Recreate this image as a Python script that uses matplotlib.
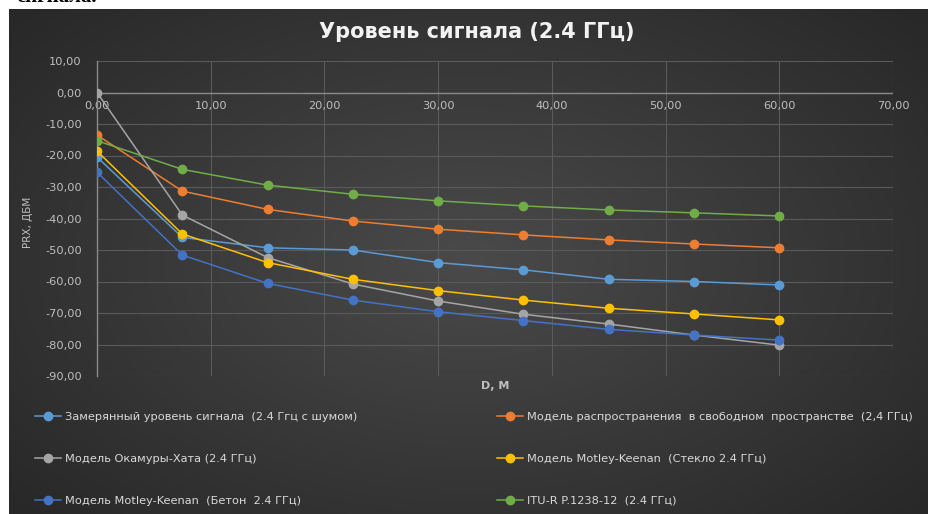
import matplotlib.pyplot as plt
import matplotlib.transforms as mtrans
import numpy as np

# distance, m
dist = [0.0, 7.5, 15.0, 22.5, 30.0, 37.5, 45.0, 52.5, 60.0]

measured   = [-20.5, -46.0, -49.3, -50.0, -54.0, -56.3, -59.3, -60.0, -61.1]
free_space = [-13.5, -31.3, -37.1, -40.8, -43.4, -45.2, -46.8, -48.1, -49.3]
okumura    = [0.0, -38.9, -52.4, -60.8, -66.2, -70.4, -73.5, -77.0, -80.2]
mk_glass   = [-18.6, -44.9, -54.0, -59.3, -62.9, -65.9, -68.5, -70.3, -72.2]
mk_concr   = [-25.3, -51.6, -60.6, -65.9, -69.6, -72.4, -75.2, -77.0, -78.6]
itu        = [-15.3, -24.4, -29.4, -32.3, -34.4, -36.0, -37.3, -38.2, -39.2]

labels = ['Замерянный уровень сигнала  (2.4 Ггц с шумом)',
          'Модель распространения  в свободном  пространстве  (2,4 ГГц)',
          'Модель Окамуры-Хата (2.4 ГГц)',
          'Модель Motley-Keenan  (Стекло 2.4 ГГц)',
          'Модель Motley-Keenan  (Бетон  2.4 ГГц)',
          'ITU-R P.1238-12  (2.4 ГГц)']
series = [measured, free_space, okumura, mk_glass, mk_concr, itu]
colors = ['#5B9BD5', '#ED7D31', '#A5A5A5', '#FFC000', '#4472C4', '#70AD47']

xticks = [0, 10, 20, 30, 40, 50, 60, 70]
yticks = [10, 0, -10, -20, -30, -40, -50, -60, -70, -80, -90]

W, H = 929, 514
fig = plt.figure(figsize=(W / 100, H / 100), dpi=100)
fig.patch.set_facecolor('white')

# dark chart box with radial gradient
bg = fig.add_axes([9 / W, 0, 1 - 9 / W, 1 - 9 / H])
gx, gy = np.meshgrid(np.linspace(-1, 1, 300), np.linspace(-1, 1, 200))
r = np.sqrt(gx ** 2 + (gy * 0.9) ** 2)
shade = 0.29 - 0.13 * np.clip(r / 1.3, 0, 1)
bg.imshow(np.dstack([shade] * 3), aspect='auto', extent=[0, 1, 0, 1])
bg.set_axis_off()

# piece of the document text cut off by the crop
fig.text(97 / W, 1 - 7 / H, 'сигнала.', ha='right', va='bottom',
         fontsize=15, fontweight='bold', family='Liberation Serif', color='black')

ax = fig.add_axes([97 / W, 1 - 376 / H, 796 / W, 315 / H])
ax.set_facecolor('none')
ax.set_xlim(0, 70)
ax.set_ylim(-90, 10)

for ys, c, lab in zip(series, colors, labels):
    ax.plot(dist, ys, '-o', color=c, lw=1.1, ms=6, label=lab,
            markeredgecolor=c, zorder=3)

ax.set_xticks(xticks)
ax.set_yticks(yticks)
fmt = lambda v: f'{v:.2f}'.replace('.', ',')
ax.set_xticklabels([fmt(v) for v in xticks])
ax.set_yticklabels([fmt(v) for v in yticks])
ax.grid(True, color='#5a5a5a', lw=0.8)
ax.set_axisbelow(True)
for s in ['top', 'right', 'bottom']:
    ax.spines[s].set_visible(False)
ax.spines['left'].set_color('#8a8a8a')
ax.spines['left'].set_linewidth(1.0)
ax.axhline(0, color='#8a8a8a', lw=1.0, zorder=2)
ax.tick_params(length=0, colors='#BFBFBF', labelsize=8.2)
ax.tick_params(axis='y', pad=11)
# x tick labels sit right below the zero line
off = mtrans.ScaledTranslation(0, -9 / 100, fig.dpi_scale_trans)
for t in ax.get_xticklabels():
    t.set_transform(ax.get_xaxis_transform() + off)
    t.set_y(0.9)
    t.set_va('top')

fig.text(495 / W, 1 - 386 / H, 'D, M', ha='center', va='center',
         color='#BFBFBF', fontsize=8, fontweight='bold')
fig.text(28 / W, 1 - 222 / H, 'PRX, ДБМ', ha='center', va='center',
         rotation=90, color='#BFBFBF', fontsize=7.5)
fig.text(477 / W, 1 - 32 / H, 'Уровень сигнала (2.4 ГГц)', ha='center',
         va='center', color='#F2F2F2', fontsize=15, fontweight='bold')

h, l = ax.get_legend_handles_labels()
leg_kw = dict(frameon=False, fontsize=8.2, labelcolor='#D9D9D9',
              handlelength=2.3, handletextpad=0.3, labelspacing=2.8,
              borderaxespad=0, borderpad=0)
fig.legend(h[0::2], l[0::2], loc='upper left',
           bbox_to_anchor=(35 / W, 1 - 412 / H), **leg_kw)
fig.legend(h[1::2], l[1::2], loc='upper left',
           bbox_to_anchor=(497 / W, 1 - 412 / H), **leg_kw)

plt.savefig('out.png', dpi=100)
